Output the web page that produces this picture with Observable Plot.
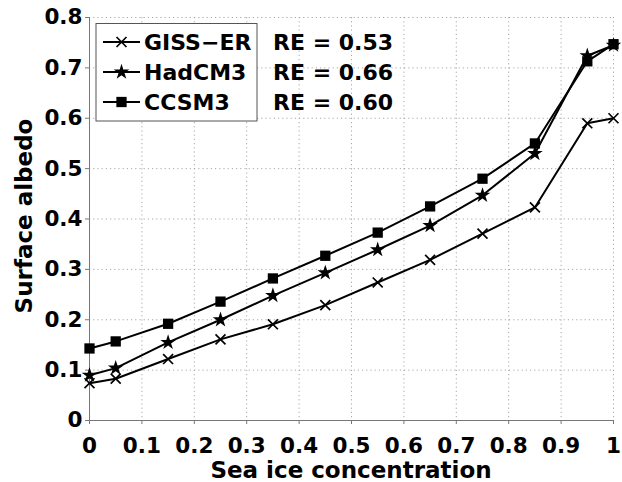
<!DOCTYPE html>
<html>
<head>
<meta charset="utf-8">
<script src="https://cdn.jsdelivr.net/npm/d3@7"></script>
<script src="https://cdn.jsdelivr.net/npm/@observablehq/plot@0.6"></script>
<style>
  html, body { margin: 0; padding: 0; background: #fff; }
  #chart { width: 622px; height: 482px; }
</style>
</head>
<body>
<div id="chart"></div>
<script>
const concentration = [0, 0.05, 0.15, 0.25, 0.35, 0.45, 0.55, 0.65, 0.75, 0.85, 0.95, 1.0];
const giss   = [0.074, 0.083, 0.122, 0.161, 0.191, 0.229, 0.274, 0.319, 0.371, 0.423, 0.590, 0.600];
const hadcm3 = [0.090, 0.104, 0.155, 0.200, 0.248, 0.293, 0.339, 0.387, 0.447, 0.530, 0.724, 0.745];
const ccsm3  = [0.143, 0.157, 0.192, 0.236, 0.282, 0.327, 0.373, 0.425, 0.480, 0.550, 0.713, 0.747];
const models = ["GISS-ER", "HadCM3", "CCSM3"];
const modelLabels = ["GISS\u2212ER", "HadCM3", "CCSM3"];
const reValues = ["RE = 0.53", "RE = 0.66", "RE = 0.60"];
const symbols = ["times", "star", "square"];
const xTicks = [0, 0.1, 0.2, 0.3, 0.4, 0.5, 0.6, 0.7, 0.8, 0.9, 1];
const yTicks = [0, 0.1, 0.2, 0.3, 0.4, 0.5, 0.6, 0.7, 0.8];
const xTitle = "Sea ice concentration";
const yTitle = "Surface albedo";

const seriesValues = [giss, hadcm3, ccsm3];
const data = [];
seriesValues.forEach((vals, i) => {
  vals.forEach((v, j) => data.push({model: models[i], x: concentration[j], y: v}));
});
const byModel = m => data.filter(d => d.model === m);

const font = "'DejaVu Sans', 'Liberation Sans', Arial, sans-serif";
// marker sizes (Plot r -> symbol area pi*r^2)
const rTimes = 4.6, rStar = 4.9, rSquare = 5.8;

const chart = Plot.plot({
  width: 622,
  height: 482,
  marginLeft: 89,
  marginRight: 9,
  marginTop: 17,
  marginBottom: 62,
  style: {fontFamily: font, fontWeight: "bold", fontSize: "21px", background: "#fff", color: "#000"},
  x: {domain: [0, 1], ticks: xTicks},
  y: {domain: [0, 0.8], ticks: yTicks},
  symbol: {domain: models, range: symbols},
  marks: [
    Plot.gridX(xTicks, {stroke: "#999", strokeOpacity: 0.85, strokeDasharray: "1.2,3"}),
    Plot.gridY(yTicks, {stroke: "#999", strokeOpacity: 0.85, strokeDasharray: "1.2,3"}),
    Plot.axisX(xTicks, {tickSize: 4, tickPadding: 13, stroke: "#777", fill: "#000", label: null, tickFormat: d => String(d), fontSize: 21.5}),
    Plot.axisY(yTicks, {tickSize: 4, tickPadding: 3, stroke: "#777", fill: "#000", label: null, tickFormat: d => String(d), fontSize: 21.5}),
    Plot.ruleX([0], {stroke: "#777", strokeWidth: 1}),
    Plot.ruleY([0], {stroke: "#777", strokeWidth: 1}),
    Plot.line(data, {x: "x", y: "y", z: "model", stroke: "#000", strokeWidth: 2}),
    Plot.dot(byModel("GISS-ER"), {x: "x", y: "y", symbol: "model", r: rTimes, stroke: "#000", strokeWidth: 1.7}),
    Plot.dot(byModel("HadCM3"), {x: "x", y: "y", symbol: "model", r: rStar, fill: "#000", stroke: "none"}),
    Plot.dot(byModel("CCSM3"), {x: "x", y: "y", symbol: "model", r: rSquare, fill: "#000", stroke: "none"})
  ]
});

document.getElementById("chart").appendChild(chart);

const svg = d3.select(chart);
const ann = svg.append("g").attr("font-family", font).attr("font-weight", "bold").attr("fill", "#000");

// Axis titles
ann.append("text").attr("x", 351).attr("y", 478).attr("text-anchor", "middle").attr("font-size", 23).text(xTitle);
ann.append("text").attr("transform", "translate(32,216) rotate(-90)").attr("text-anchor", "middle").attr("font-size", 23).text(yTitle);

// Legend box and RE annotations
ann.append("rect").attr("x", 96).attr("y", 23.5).attr("width", 161).attr("height", 97.5)
  .attr("fill", "#fff").attr("stroke", "#555").attr("stroke-width", 1);
const rowY = [42, 72, 102];
const symGen = {
  times: d3.symbol(d3.symbolTimes, Math.PI * rTimes * rTimes),
  star: d3.symbol(d3.symbolStar, Math.PI * rStar * rStar),
  square: d3.symbol(d3.symbolSquare, Math.PI * rSquare * rSquare)
};
modelLabels.forEach((name, i) => {
  const g = ann.append("g").attr("transform", `translate(0,${rowY[i]})`);
  g.append("line").attr("x1", 103).attr("x2", 140).attr("y1", 0).attr("y2", 0).attr("stroke", "#000").attr("stroke-width", 2);
  const p = g.append("path").attr("transform", "translate(121.5,0)").attr("d", symGen[symbols[i]]());
  if (symbols[i] === "times") p.attr("fill", "none").attr("stroke", "#000").attr("stroke-width", 1.7);
  else p.attr("fill", "#000");
  g.append("text").attr("x", 144).attr("y", 8).attr("text-anchor", "start").attr("font-size", 22).text(name);
  ann.append("text").attr("x", 273).attr("y", rowY[i] + 8).attr("text-anchor", "start").attr("font-size", 22).text(reValues[i]);
});
</script>
</body>
</html>
